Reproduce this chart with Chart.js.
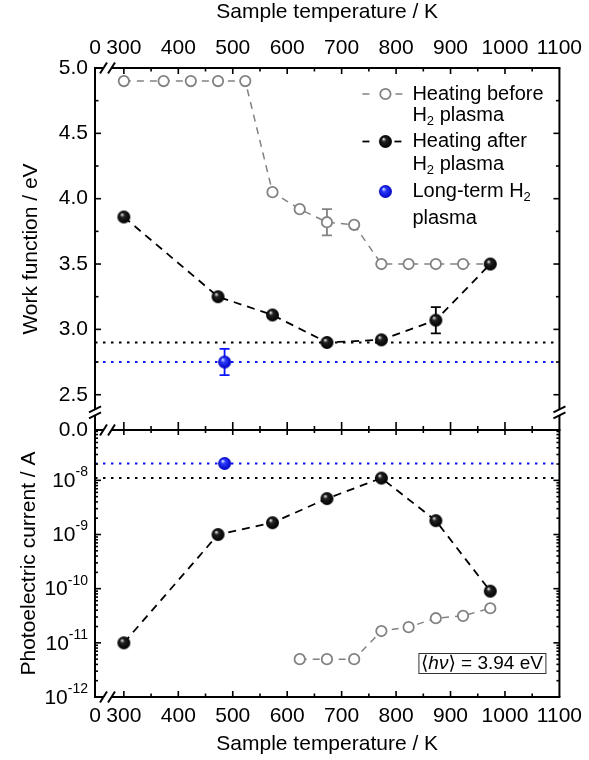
<!DOCTYPE html>
<html>
<head>
<meta charset="utf-8">
<script src="https://cdn.jsdelivr.net/npm/chart.js@4.4.1/dist/chart.umd.min.js"></script>
<style>
  html, body { margin: 0; padding: 0; background: #fff; }
  canvas { display: block; }
</style>
</head>
<body>
<canvas id="chart" width="589" height="760"></canvas>
<script>
// Sample temperatures (K) and measured values
const beforeT = [300, 373, 423, 473, 523, 573, 623, 673, 723, 773, 823, 873, 923, 973];
const beforeWF = [4.90, 4.90, 4.90, 4.90, 4.90, 4.05, 3.92, 3.82, 3.80, 3.50, 3.50, 3.50, 3.50, 3.50];
const beforeWFErr = [0, 0, 0, 0, 0, 0, 0, 0.1, 0, 0, 0, 0, 0, 0];

const afterT = [300, 473, 573, 673, 773, 873, 973];
const afterWF = [3.86, 3.25, 3.11, 2.90, 2.92, 3.07, 3.50];
const afterWFErr = [0, 0, 0, 0, 0, 0.1, 0];

const longT = [485];
const longWF = [2.75];
const longWFErr = [0.1];

const beforePCT = [623, 673, 723, 773, 823, 873, 923, 973];
const beforePC = [5e-12, 5e-12, 5e-12, 1.65e-11, 1.95e-11, 2.85e-11, 3.15e-11, 4.35e-11];
const afterPC = [1.0e-11, 1.0e-9, 1.65e-9, 4.6e-9, 1.1e-8, 1.8e-9, 9.0e-11];
const longPC = [2.05e-8];

// dotted reference levels
const wfRefAfter = 2.90;
const wfRefLong = 2.75;
const pcRefAfter = 1.1e-8;
const pcRefLong = 2.05e-8;

// axes
const xMin = 247, xMax = 1100;
const xTicks = [300, 400, 500, 600, 700, 800, 900, 1000, 1100];
const wfMin = 2.23, wfMax = 5.0;
const wfTicks = [2.5, 3.0, 3.5, 4.0, 4.5, 5.0];
const pcMin = 1e-12, pcMax = 8.5e-8;
const pcTicks = [1e-12, 1e-11, 1e-10, 1e-9, 1e-8];

const FONT = '"Liberation Sans", Arial, "DejaVu Sans", sans-serif';
const GREY = '#828282';
const BLUE = '#0a14ff';

Chart.defaults.font.family = FONT;
Chart.defaults.font.size = 21;
Chart.defaults.color = '#000';

function makeSphere(r, light, mid, dark) {
  const size = Math.ceil(r * 2) + 2;
  const c = document.createElement('canvas');
  c.width = size; c.height = size;
  const g = c.getContext('2d');
  const cx = size / 2, cy = size / 2;
  const grad = g.createRadialGradient(cx - r * 0.3, cy - r * 0.4, r * 0.05, cx, cy, r);
  grad.addColorStop(0, light);
  grad.addColorStop(0.3, mid);
  grad.addColorStop(1, dark);
  g.fillStyle = grad;
  g.beginPath(); g.arc(cx, cy, r, 0, Math.PI * 2); g.fill();
  return c;
}
const blackBall = makeSphere(6.5, '#e6e6e6', '#222', '#000');
const blueBall = makeSphere(6.5, '#dfe4ff', '#2d3dff', '#0000c0');

const pts = (xs, ys) => xs.map((x, i) => ({ x: x, y: ys[i] }));
const hline = v => [{ x: xMin, y: v }, { x: xMax, y: v }];

const ballSet = (data, yAxisID, ball, color, dash) => ({
  data, yAxisID, xAxisID: 'x',
  borderColor: color, borderWidth: 1.8, borderDash: dash,
  showLine: !!dash, pointStyle: ball, pointRadius: 6.5
});
const openSet = (data, yAxisID) => ({
  data, yAxisID, xAxisID: 'x',
  borderColor: GREY, borderWidth: 1.5, borderDash: [7, 6],
  pointStyle: 'circle', pointRadius: 5.2, pointBorderWidth: 1.8,
  pointBorderColor: GREY, pointBackgroundColor: '#fff'
});
const refSet = (v, yAxisID, color) => ({
  data: hline(v), yAxisID, xAxisID: 'x',
  borderColor: color, borderWidth: 2, borderDash: [2.5, 5.5], pointRadius: 0
});

function drawRich(ctx, x, y, parts) {
  for (const p of parts) {
    ctx.font = (p.italic ? 'italic ' : '') + (p.size || 20) + 'px ' + FONT;
    ctx.fillText(p.t, x, y + (p.dy || 0));
    x += ctx.measureText(p.t).width;
  }
  return x;
}

function errBars(ctx, xs, ys, errs, xs_, ys_, color) {
  ctx.strokeStyle = color;
  ctx.lineWidth = 1.8;
  xs.forEach((t, i) => {
    if (!errs[i]) return;
    const px = xs_.getPixelForValue(t);
    const top = ys_.getPixelForValue(ys[i] + errs[i]);
    const bot = ys_.getPixelForValue(ys[i] - errs[i]);
    ctx.beginPath();
    ctx.moveTo(px, top); ctx.lineTo(px, bot);
    ctx.moveTo(px - 5, top); ctx.lineTo(px + 5, top);
    ctx.moveTo(px - 5, bot); ctx.lineTo(px + 5, bot);
    ctx.stroke();
  });
}

const framePlugin = {
  id: 'frame',
  beforeDatasetsDraw(chart) {
    const { ctx } = chart;
    const x = chart.scales.x, y = chart.scales.y;
    ctx.save();
    errBars(ctx, beforeT, beforeWF, beforeWFErr, x, y, GREY);
    errBars(ctx, afterT, afterWF, afterWFErr, x, y, '#000');
    errBars(ctx, longT, longWF, longWFErr, x, y, BLUE);
    ctx.restore();
  },
  afterDatasetsDraw(chart) {
    const { ctx } = chart;
    const { left: L, right: R, top: T, bottom: B } = chart.chartArea;
    const x = chart.scales.x, y = chart.scales.y, yl = chart.scales.yLog;
    const M = y.bottom;
    const yb = (y.getPixelForValue(wfTicks[0]) + M) / 2;
    const xb = L + 12.5;
    ctx.save();
    ctx.strokeStyle = '#000';
    ctx.fillStyle = '#000';
    ctx.lineWidth = 2;

    // frame lines with breaks
    const seg = (x1, y1, x2, y2) => { ctx.beginPath(); ctx.moveTo(x1, y1); ctx.lineTo(x2, y2); ctx.stroke(); };
    for (const yy of [T, M, B]) {
      seg(L - 1, yy, xb - 4, yy);
      seg(xb + 4, yy, R + 1, yy);
      seg(xb - 4 - 3.5, yy + 5.5, xb - 4 + 3.5, yy - 5.5);
      seg(xb + 4 - 3.5, yy + 5.5, xb + 4 + 3.5, yy - 5.5);
    }
    for (const xx of [L, R]) {
      seg(xx, T, xx, yb - 3);
      seg(xx, yb + 3, xx, B);
      seg(xx - 6, yb - 3 + 3, xx + 6, yb - 3 - 3);
      seg(xx - 6, yb + 3 + 3, xx + 6, yb + 3 - 3);
    }

    // tick marks
    ctx.lineWidth = 1.6;
    for (let t = xTicks[0]; t < xMax; t += 50) {
      const px = x.getPixelForValue(t);
      const major = t % 100 === 0;
      const len = major ? 6 : 3.5;
      seg(px, T, px, T + len);
      seg(px, B, px, B - len);
      seg(px, M - (major ? 8 : 4), px, M + (major ? 5 : 3));
    }
    for (let v = wfTicks[0]; v < wfMax; v += 0.25) {
      const py = y.getPixelForValue(v);
      const len = Math.abs(v * 2 - Math.round(v * 2)) < 1e-6 ? 6 : 3.5;
      seg(L, py, L + len, py);
      seg(R, py, R - len, py);
    }
    for (let n = -12; n <= -8; n++) {
      for (let k = 1; k <= 9; k++) {
        const v = k * Math.pow(10, n);
        if (v > pcMax || v <= pcMin) continue;
        const py = yl.getPixelForValue(v);
        const len = k === 1 ? 6 : 3;
        seg(L, py, L + len, py);
        seg(R, py, R - len, py);
      }
    }

    // log tick labels with exponents
    ctx.textAlign = 'right';
    ctx.textBaseline = 'middle';
    for (const v of pcTicks) {
      const py = yl.getPixelForValue(v);
      const e = String(Math.round(Math.log10(v)));
      ctx.font = '14px ' + FONT;
      const ew = ctx.measureText(e).width;
      ctx.fillText(e, L - 7, py - 8);
      ctx.font = '21px ' + FONT;
      ctx.fillText('10', L - 7 - ew, py + 1);
    }

    // legend
    ctx.textAlign = 'left';
    const sx = R - 174, tx = R - 147;
    const ly = [T + 26, T + 47, T + 73.5, T + 96, T + 123.5, T + 150];
    ctx.lineWidth = 1.5;
    ctx.strokeStyle = GREY;
    seg(sx - 23, ly[0], sx - 16, ly[0]);
    seg(sx + 10, ly[0], sx + 17, ly[0]);
    ctx.lineWidth = 1.8;
    ctx.fillStyle = '#fff';
    ctx.beginPath(); ctx.arc(sx, ly[0], 5.2, 0, Math.PI * 2); ctx.fill(); ctx.stroke();
    ctx.strokeStyle = '#000';
    seg(sx - 23, ly[2], sx - 16, ly[2]);
    seg(sx + 9, ly[2], sx + 16, ly[2]);
    ctx.drawImage(blackBall, sx - blackBall.width / 2, ly[2] - blackBall.height / 2);
    ctx.drawImage(blueBall, sx - blueBall.width / 2, ly[4] - blueBall.height / 2);
    ctx.fillStyle = '#000';
    const h2 = [{ t: 'H' }, { t: '2', size: 13, dy: 6 }, { t: ' plasma' }];
    drawRich(ctx, tx, ly[0], [{ t: 'Heating before' }]);
    drawRich(ctx, tx, ly[1], h2);
    drawRich(ctx, tx, ly[2], [{ t: 'Heating after' }]);
    drawRich(ctx, tx, ly[3], h2);
    drawRich(ctx, tx, ly[4], [{ t: 'Long-term H' }, { t: '2', size: 13, dy: 6 }]);
    drawRich(ctx, tx, ly[5], [{ t: 'plasma' }]);

    // photon energy note
    const bx1 = R - 141, bx2 = R - 14, by1 = B - 44, by2 = B - 24;
    ctx.fillStyle = '#fff';
    ctx.fillRect(bx1, by1, bx2 - bx1, by2 - by1);
    ctx.strokeStyle = '#333';
    ctx.lineWidth = 1;
    ctx.strokeRect(bx1 + 0.5, by1 + 0.5, bx2 - bx1, by2 - by1);
    const note = [{ t: '\u27E8', size: 19 }, { t: 'h\u03BD', size: 19, italic: true }, { t: '\u27E9 = 3.94 eV', size: 19 }];
    let w = 0;
    for (const p of note) {
      ctx.font = (p.italic ? 'italic ' : '') + p.size + 'px ' + FONT;
      w += ctx.measureText(p.t).width;
    }
    ctx.fillStyle = '#000';
    drawRich(ctx, (bx1 + bx2) / 2 - w / 2, (by1 + by2) / 2 + 1, note);
    ctx.restore();
  }
};

const xScale = (position, extra) => Object.assign({
  type: 'linear', position, min: xMin, max: xMax,
  grid: { display: false, drawTicks: false }, border: { display: false },
  afterBuildTicks: s => { s.ticks = [xMin, ...xTicks].map(v => ({ value: v })); },
  ticks: { autoSkip: false, maxRotation: 0, padding: 7, callback: v => v === xMin ? '0' : String(v) },
  title: { display: true, text: 'Sample temperature / K', padding: { top: 0, bottom: 3 } }
}, extra);

new Chart(document.getElementById('chart'), {
  type: 'line',
  data: {
    datasets: [
      ballSet(pts(afterT, afterWF), 'y', blackBall, '#000', [8, 6]),
      ballSet(pts(afterT, afterPC), 'yLog', blackBall, '#000', [8, 6]),
      ballSet(pts(longT, longWF), 'y', blueBall, BLUE, null),
      ballSet(pts(longT, longPC), 'yLog', blueBall, BLUE, null),
      openSet(pts(beforeT, beforeWF), 'y'),
      openSet(pts(beforePCT, beforePC), 'yLog'),
      refSet(wfRefAfter, 'y', '#000'),
      refSet(wfRefLong, 'y', BLUE),
      refSet(pcRefAfter, 'yLog', '#000'),
      refSet(pcRefLong, 'yLog', BLUE)
    ]
  },
  options: {
    responsive: false,
    devicePixelRatio: 1,
    animation: false,
    layout: { padding: { left: 0, right: 25, top: 0, bottom: 0 } },
    plugins: { legend: { display: false }, tooltip: { enabled: false } },
    scales: {
      x: xScale('bottom', { afterFit: s => { s.height = 63; } }),
      x2: xScale('top', { afterFit: s => { s.height = 68; } }),
      y: {
        type: 'linear', position: 'left', stack: 'left', stackWeight: 362, weight: 1,
        min: wfMin, max: wfMax,
        grid: { display: false, drawTicks: false }, border: { display: false },
        afterBuildTicks: s => { s.ticks = [wfMin, ...wfTicks].map(v => ({ value: v })); },
        afterFit: s => { s.width = 95; },
        ticks: { padding: 7, callback: v => v === wfMin ? '0.0' : v.toFixed(1) },
        title: { display: true, text: 'Work function / eV', padding: { top: 19, bottom: 0 } }
      },
      yLog: {
        type: 'logarithmic', position: 'left', stack: 'left', stackWeight: 267, weight: 0,
        min: pcMin, max: pcMax,
        grid: { display: false, drawTicks: false }, border: { display: false },
        afterBuildTicks: s => { s.ticks = pcTicks.map(v => ({ value: v })); },
        afterFit: s => { s.width = 95; },
        ticks: { display: false },
        title: { display: true, text: 'Photoelectric current / A', padding: { top: 17, bottom: 0 } }
      }
    }
  },
  plugins: [framePlugin]
});
</script>
</body>
</html>
